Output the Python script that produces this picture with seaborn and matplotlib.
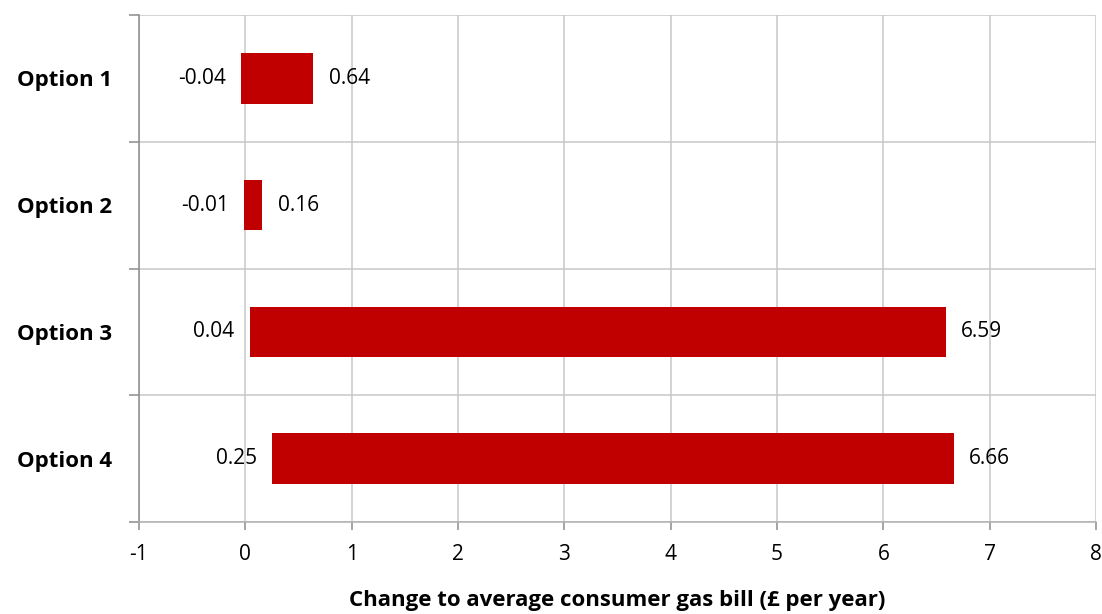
import matplotlib
matplotlib.use("Agg")
import matplotlib.pyplot as plt
import seaborn as sns
import pandas as pd
import numpy as np
from matplotlib.ticker import FixedLocator

options = ["Option 1", "Option 2", "Option 3", "Option 4"]
low_values = [-0.04, -0.01, 0.04, 0.25]
high_values = [0.64, 0.16, 6.59, 6.66]
x_ticks = [-1, 0, 1, 2, 3, 4, 5, 6, 7, 8]
x_label = "Change to average consumer gas bill (£ per year)"

sns.set_theme(style="white")
plt.rcParams["font.family"] = ["Open Sans", "DejaVu Sans"]

df = pd.DataFrame({
    "option": options,
    "low": low_values,
    "high": high_values,
})
df["span"] = df["high"] - df["low"]

fig = plt.figure(figsize=(11.02, 6.14), dpi=100)
ax = fig.add_axes([139 / 1102, 1 - 522 / 614, (1096 - 139) / 1102, (522 - 15) / 614])

sns.barplot(data=df, x="span", y="option", order=options, orient="y",
            left=df["low"].tolist(), color="#C00000", saturation=1,
            width=0.4, edgecolor="none", linewidth=0, ax=ax, zorder=3)

ax.set_xlim(-1, 8)
ax.set_ylim(3.5, -0.5)
ax.set_xticks(x_ticks)
ax.set_xticklabels([str(t) for t in x_ticks])

# vertical gridlines
for t in x_ticks:
    ax.axvline(t, color="#C8C8C8", lw=1.1, zorder=1)
# horizontal boundary lines
for b in [-0.5, 0.5, 1.5, 2.5, 3.5]:
    ax.axhline(b, color="#C8C8C8", lw=1.1, zorder=1)

for s in ["top", "right"]:
    ax.spines[s].set_visible(False)
ax.spines["left"].set_color("#8C8C8C")
ax.spines["left"].set_linewidth(1.1)
ax.spines["bottom"].set_color("#B0B0B0")
ax.spines["bottom"].set_linewidth(1.1)

ax.yaxis.set_minor_locator(FixedLocator([-0.5, 0.5, 1.5, 2.5, 3.5]))
ax.tick_params(axis="y", which="major", length=0, pad=19, labelsize=16)
ax.tick_params(axis="y", which="minor", length=7, width=1.1, color="#8C8C8C", left=True)
ax.tick_params(axis="x", which="major", length=6, width=1.1, color="#8C8C8C",
               bottom=True, labelsize=15, pad=10)
for lbl in ax.get_yticklabels():
    lbl.set_fontweight("bold")
    lbl.set_color("black")
for lbl in ax.get_xticklabels():
    lbl.set_color("black")

ax.set_ylabel("")
ax.set_xlabel(x_label, fontsize=16, fontweight="bold", color="black", labelpad=18)

for i, (lo, hi) in enumerate(zip(low_values, high_values)):
    ax.annotate(f"{lo:.2f}", (lo, i), xytext=(-11, 0), textcoords="offset points",
                ha="right", va="center", fontsize=15, color="black")
    ax.annotate(f"{hi:.2f}", (hi, i), xytext=(11, 0), textcoords="offset points",
                ha="left", va="center", fontsize=15, color="black")

fig.savefig("out.png", dpi=100)
